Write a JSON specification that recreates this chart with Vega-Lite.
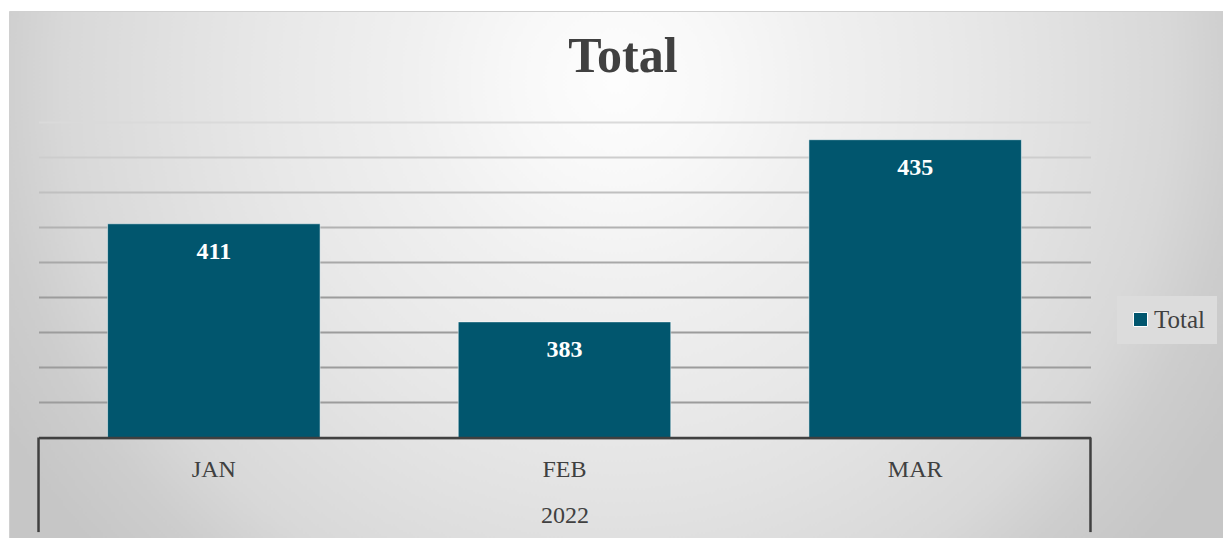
{
  "$schema": "https://vega.github.io/schema/vega-lite/v6.json",
  "width": 1214,
  "height": 527,
  "autosize": {"type": "none"},
  "padding": {"left": 9, "top": 11, "right": 0, "bottom": 0},
  "background": "#ffffff",
  "config": {
    "view": {
      "fill": {
        "gradient": "radial",
        "x1": 0.5, "y1": 0.34, "r1": 0,
        "x2": 0.5, "y2": 0.34, "r2": 0.577,
        "stops": [
          {"offset": 0, "color": "#fdfdfd"},
          {"offset": 0.14, "color": "#f8f8f8"},
          {"offset": 0.29, "color": "#f0f0f0"},
          {"offset": 0.49, "color": "#e8e8e8"},
          {"offset": 0.61, "color": "#e2e2e2"},
          {"offset": 0.79, "color": "#d8d8d8"},
          {"offset": 0.89, "color": "#cdcdcd"},
          {"offset": 1, "color": "#c6c6c6"}
        ]
      },
      "stroke": "#d0d0d0",
      "strokeWidth": 1
    }
  },
  "title": {
    "text": "Total",
    "anchor": "middle",
    "frame": "group",
    "orient": "top",
    "offset": -111,
    "baseline": "alphabetic",
    "dx": 7,
    "font": "Liberation Serif",
    "fontSize": 50,
    "fontWeight": "bold",
    "color": "#404040"
  },
  "data": {
    "values": [
      {"year": "2022", "month": "JAN", "total": 411},
      {"year": "2022", "month": "FEB", "total": 383},
      {"year": "2022", "month": "MAR", "total": 435}
    ]
  },
  "encoding": {
    "x": {
      "field": "month",
      "type": "nominal",
      "sort": null,
      "scale": {"domain": ["JAN", "FEB", "MAR"], "range": [29.5, 1081.5], "paddingInner": 0.394, "paddingOuter": 0.197},
      "axis": {
        "title": "2022",
        "offset": -100.5,
        "zindex": 1,
        "domainColor": "#404040",
        "domainWidth": 2.5,
        "ticks": false,
        "tickSize": 0,
        "grid": false,
        "labelAngle": 0,
        "labelFont": "Liberation Serif",
        "labelFontSize": 24,
        "labelColor": "#404040",
        "labelBaseline": "alphabetic",
        "labelPadding": 39,
        "titleFont": "Liberation Serif",
        "titleFontSize": 24,
        "titleFontWeight": "normal",
        "titleColor": "#404040",
        "titleBaseline": "alphabetic",
        "titleY": 85
      }
    }
  },
  "layer": [
    {
      "mark": {"type": "bar", "stroke": "#ffffff", "strokeOpacity": 0.5, "strokeWidth": 1},
      "encoding": {
        "y": {
          "field": "total",
          "type": "quantitative",
          "scale": {"domain": [350, 440], "range": [426.5, 111.2], "nice": false, "zero": false},
          "axis": {
            "title": null,
            "domain": false,
            "ticks": false,
            "labels": false,
            "grid": true,
            "values": [350, 360, 370, 380, 390, 400, 410, 420, 430, 440],
            "gridWidth": 2,
            "gridColor": {
              "condition": [
                {"test": "datum.value >= 440", "value": "#dadada"},
                {"test": "datum.value >= 430", "value": "#cdcdcd"},
                {"test": "datum.value >= 420", "value": "#c0c0c0"},
                {"test": "datum.value >= 410", "value": "#b2b2b2"},
                {"test": "datum.value >= 400", "value": "#a8a8a8"}
              ],
              "value": "#9c9c9c"
            }
          }
        },
        "y2": {"datum": 350},
        "color": {
          "datum": "Total",
          "type": "nominal",
          "scale": {"range": ["#01566e"]},
          "legend": {
            "title": null,
            "orient": "none",
            "legendX": 1108,
            "legendY": 285,
            "padding": 11,
            "fillColor": "#dcdcdc",
            "symbolType": "square",
            "symbolSize": 196,
            "symbolStrokeColor": "#ffffff",
            "symbolStrokeWidth": 1,
            "labelFont": "Liberation Serif",
            "labelFontSize": 25,
            "labelColor": "#404040",
            "labelOffset": 1
          }
        }
      }
    },
    {
      "mark": {"type": "text", "baseline": "alphabetic", "dy": 35, "color": "#ffffff", "font": "Liberation Serif", "fontSize": 24, "fontWeight": "bold"},
      "encoding": {
        "y": {"field": "total", "type": "quantitative"},
        "text": {"field": "total", "type": "quantitative"}
      }
    },
    {
      "transform": [{"filter": "datum.month === 'JAN'"}],
      "mark": {"type": "rule", "color": "#404040", "strokeWidth": 2.5},
      "encoding": {
        "x": {
          "field": "month", "type": "nominal", "sort": null, "bandPosition": -0.325,
          "axis": {
            "title": "2022",
            "offset": -100.5,
            "zindex": 1,
            "domainColor": "#404040",
            "domainWidth": 2.5,
            "ticks": false,
            "tickSize": 0,
            "grid": false,
            "labelAngle": 0,
            "labelFont": "Liberation Serif",
            "labelFontSize": 24,
            "labelColor": "#404040",
            "labelBaseline": "alphabetic",
            "labelPadding": 39,
            "titleFont": "Liberation Serif",
            "titleFontSize": 24,
            "titleFontWeight": "normal",
            "titleColor": "#404040",
            "titleBaseline": "alphabetic",
            "titleY": 85
          }
        },
        "y": {"datum": 350},
        "y2": {"datum": 323}
      }
    },
    {
      "transform": [{"filter": "datum.month === 'MAR'"}],
      "mark": {"type": "rule", "color": "#404040", "strokeWidth": 2.5},
      "encoding": {
        "x": {
          "field": "month", "type": "nominal", "sort": null, "bandPosition": 1.325,
          "axis": {
            "title": "2022",
            "offset": -100.5,
            "zindex": 1,
            "domainColor": "#404040",
            "domainWidth": 2.5,
            "ticks": false,
            "tickSize": 0,
            "grid": false,
            "labelAngle": 0,
            "labelFont": "Liberation Serif",
            "labelFontSize": 24,
            "labelColor": "#404040",
            "labelBaseline": "alphabetic",
            "labelPadding": 39,
            "titleFont": "Liberation Serif",
            "titleFontSize": 24,
            "titleFontWeight": "normal",
            "titleColor": "#404040",
            "titleBaseline": "alphabetic",
            "titleY": 85
          }
        },
        "y": {"datum": 350},
        "y2": {"datum": 323}
      }
    }
  ]
}
